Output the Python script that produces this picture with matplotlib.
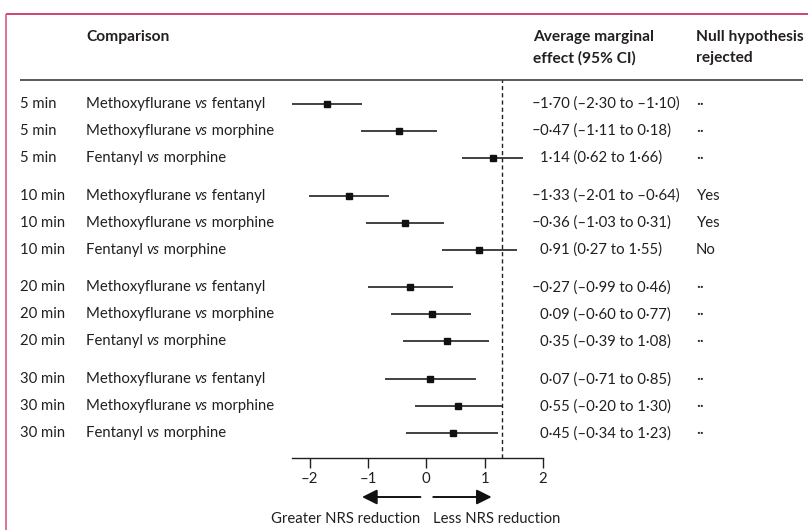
import matplotlib
matplotlib.use("Agg")
import matplotlib.pyplot as plt

# ---------------- data ----------------
times = ["5 min", "10 min", "20 min", "30 min"]
comparisons = [
    ("Methoxyflurane", "fentanyl"),
    ("Methoxyflurane", "morphine"),
    ("Fentanyl", "morphine"),
]
estimates = [
    [-1.70, -0.47, 1.14],
    [-1.33, -0.36, 0.91],
    [-0.27, 0.09, 0.35],
    [0.07, 0.55, 0.45],
]
lower = [
    [-2.30, -1.11, 0.62],
    [-2.01, -1.03, 0.27],
    [-0.99, -0.60, -0.39],
    [-0.71, -0.20, -0.34],
]
upper = [
    [-1.10, 0.18, 1.66],
    [-0.64, 0.31, 1.55],
    [0.46, 0.77, 1.08],
    [0.85, 1.30, 1.23],
]
rejected = [
    ["··", "··", "··"],
    ["Yes", "Yes", "No"],
    ["··", "··", "··"],
    ["··", "··", "··"],
]
threshold = 1.3
xticks = [-2, -1, 0, 1, 2]
xlim = (-2.3, 2.0)
header_comparison = "Comparison"
header_effect = ["Average marginal", "effect (95% CI)"]
header_null = ["Null hypothesis", "rejected"]
arrow_left_label = "Greater NRS reduction"
arrow_right_label = "Less NRS reduction"


def fmt(v):
    s = f"{abs(v):.2f}".replace(".", "·")
    return ("–" + s) if v < 0 else s


def fmt_tick(v):
    return ("–" + str(abs(v))) if v < 0 else str(v)


# ---------------- layout ----------------
W, H = 808, 530
FONT = "Lato"
FS = 10.7
FSH = 11.2
TXT = "#231f20"

fig = plt.figure(figsize=(W / 100, H / 100), dpi=100)
ax0 = fig.add_axes([0, 0, 1, 1])
ax0.set_xlim(0, W)
ax0.set_ylim(H, 0)
ax0.axis("off")

# frame lines
ax0.plot([6, W], [14, 14], color="#c8245a", lw=1.2, solid_capstyle="butt")
ax0.plot([6, 6], [14, H], color="#db5a83", lw=1.2, solid_capstyle="butt")
# header rule
ax0.plot([20, 803], [80, 80], color="#5a5a5a", lw=1.4, solid_capstyle="butt")

# headers
ax0.text(86, 37, header_comparison, fontfamily=FONT, fontweight="bold",
         fontsize=FSH, color=TXT, va="center", ha="left")
for k, line in enumerate(header_effect):
    ax0.text(533, 37 + 21 * k, line, fontfamily=FONT, fontweight="bold",
             fontsize=FSH, color=TXT, va="center", ha="left")
for k, line in enumerate(header_null):
    ax0.text(696, 37 + 21 * k, line, fontfamily=FONT, fontweight="bold",
             fontsize=FSH, color=TXT, va="center", ha="left")

renderer = fig.canvas.get_renderer()
inv = ax0.transData.inverted()


def chain_text(x, y, parts):
    for s, style in parts:
        t = ax0.text(x, y, s, fontfamily=FONT, fontsize=FS, color=TXT,
                     style=style, va="center", ha="left")
        bb = t.get_window_extent(renderer=renderer)
        x = inv.transform((bb.x1, bb.y0))[0]


# forest axes
x_left, x_right = 292, 543
y_top, y_bot = 80, 458
axf = fig.add_axes([x_left / W, (H - y_bot) / H, (x_right - x_left) / W,
                    (y_bot - y_top) / H])
axf.set_xlim(*xlim)
axf.set_ylim(y_bot, y_top)
axf.patch.set_alpha(0)
for sp in ["top", "right", "left"]:
    axf.spines[sp].set_visible(False)
axf.spines["bottom"].set_color("#231f20")
axf.spines["bottom"].set_linewidth(1.0)
axf.set_yticks([])
axf.set_xticks(xticks)
axf.set_xticklabels([fmt_tick(v) for v in xticks],
                    fontfamily=FONT, fontsize=FS, color=TXT)
axf.tick_params(axis="x", direction="out", length=7, width=1.0,
                color="#231f20", pad=3)

axf.axvline(threshold, color="#231f20", lw=1.0, ls=(0, (3, 2.2)))

for g, t in enumerate(times):
    for i, (a, b) in enumerate(comparisons):
        y = 104 + g * 91.7 + i * 27
        ax0.text(20, y, t, fontfamily=FONT, fontsize=FS, color=TXT,
                 va="center", ha="left")
        chain_text(86, y, [(a + " ", "normal"), ("vs", "italic"), (" " + b, "normal")])
        est, lo, hi = estimates[g][i], lower[g][i], upper[g][i]
        axf.plot([lo, hi], [y, y], color="#333333", lw=1.3,
                 solid_capstyle="butt")
        axf.plot([est], [y], marker="s", ms=4.6, color="#111111",
                 mec="#111111")
        # value text with hanging minus
        rest = fmt(est).lstrip("–") + f" ({fmt(lo)} to {fmt(hi)})"
        if est < 0:
            ax0.text(540, y, "–", fontfamily=FONT, fontsize=FS, color=TXT,
                     va="center", ha="right")
        ax0.text(540, y, rest, fontfamily=FONT, fontsize=FS, color=TXT,
                 va="center", ha="left")
        ax0.text(696, y, rejected[g][i], fontfamily=FONT, fontsize=FS,
                 color=TXT, va="center", ha="left")

# arrows
ay = 497
arrow_kw = dict(arrowstyle="-|>,head_length=0.9,head_width=0.45",
                color="#111111", lw=1.4, shrinkA=0, shrinkB=0)
axf.annotate("", xy=(-1.1, ay), xytext=(-0.1, ay), xycoords="data",
             arrowprops=arrow_kw, annotation_clip=False)
axf.annotate("", xy=(1.12, ay), xytext=(0.12, ay), xycoords="data",
             arrowprops=arrow_kw, annotation_clip=False)
ax0.text(420, 519, arrow_left_label, fontfamily=FONT, fontsize=FS, color=TXT,
         va="center", ha="right")
ax0.text(433, 519, arrow_right_label, fontfamily=FONT, fontsize=FS, color=TXT,
         va="center", ha="left")

fig.savefig("out.png", dpi=100)
